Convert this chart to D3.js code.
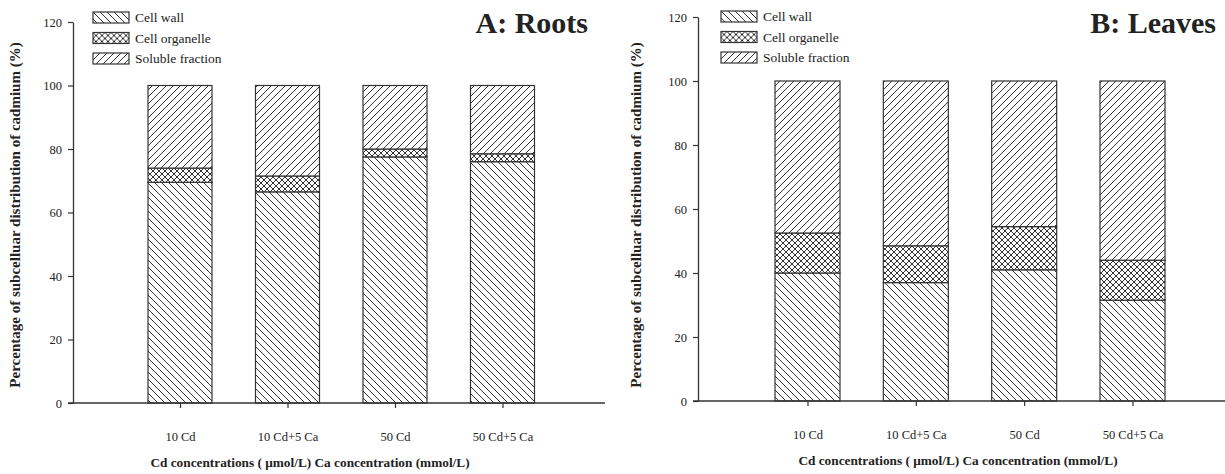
<!DOCTYPE html>
<html>
<head>
<meta charset="utf-8">
<script src="https://cdn.jsdelivr.net/npm/d3@7"></script>
<style>
body { margin: 0; background: #fff; }
svg text { font-family: "Liberation Serif", "DejaVu Serif", serif; fill: #222; }
</style>
</head>
<body>
<script>
// categories and tick labels
var categories = ["10 Cd", "10 Cd+5 Ca", "50 Cd", "50 Cd+5 Ca"];
var yTicks = [0, 20, 40, 60, 80, 100, 120];
var fractions = ["Cell wall", "Cell organelle", "Soluble fraction"];

// A: Roots (%)
var rootsCellWall = [69.5, 66.5, 77.5, 76];
var rootsOrganelle = [4.5, 5, 2.5, 2.5];
var rootsSoluble = [26, 28.5, 20, 21.5];

// B: Leaves (%)
var leavesCellWall = [40, 37, 41, 31.5];
var leavesOrganelle = [12.5, 11.5, 13.5, 12.5];
var leavesSoluble = [47.5, 51.5, 45.5, 56];

var W = 1225, H = 474;
var svg = d3.select("body").append("svg")
    .attr("width", W)
    .attr("height", H);

// hatch patterns
var defs = svg.append("defs");
var ink = "#333";
function hatch(id, size, d) {
    var p = defs.append("pattern")
        .attr("id", id)
        .attr("patternUnits", "userSpaceOnUse")
        .attr("width", size)
        .attr("height", size);
    p.append("rect").attr("width", size).attr("height", size).attr("fill", "#fff");
    p.append("path").attr("d", d).attr("stroke", ink).attr("stroke-width", 1).attr("fill", "none");
}
hatch("back", 7, "M0,0L7,7M-1,6L1,8M6,-1L8,1");
hatch("fwd", 7, "M0,7L7,0M-1,1L1,-1M6,8L8,6");
hatch("cross", 6, "M0,0L6,6M-1,5L1,7M5,-1L7,1M0,6L6,0M-1,1L1,-1M5,7L7,5");
var fills = ["url(#back)", "url(#cross)", "url(#fwd)"];
var serif = "'Liberation Serif', 'DejaVu Serif', serif";

function drawPanel(p) {
    var g = svg.append("g");
    var y = d3.scaleLinear().domain([0, 120]).range([p.bottom, p.top]);
    var x = d3.scalePoint().domain(categories).range([p.c0, p.c1]);

    var rows = categories.map(function(c, i) {
        return { cat: c, wall: p.wall[i], org: p.org[i], sol: p.sol[i] };
    });
    var stack = d3.stack().keys(["wall", "org", "sol"]);
    var series = stack(rows);

    g.selectAll("g.layer")
        .data(series)
        .enter().append("g")
        .attr("class", "layer")
        .attr("fill", function(d, i) { return fills[i]; })
        .selectAll("rect")
        .data(function(d) { return d; })
        .enter().append("rect")
        .attr("x", function(d) { return x(d.data.cat) - p.bw / 2; })
        .attr("width", p.bw)
        .attr("y", function(d) { return y(d[1]); })
        .attr("height", function(d) { return y(d[0]) - y(d[1]); })
        .attr("stroke", ink)
        .attr("stroke-width", 1.2);

    // y axis
    var ya = g.append("g")
        .attr("transform", "translate(" + p.left + ",0)")
        .call(d3.axisLeft(y).tickValues(yTicks).tickSize(5).tickSizeOuter(0).tickPadding(6));
    ya.attr("font-family", serif);
    ya.select(".domain").attr("stroke", ink).attr("stroke-width", 1.3);
    ya.selectAll(".tick line").attr("stroke", ink).attr("stroke-width", 1.2);
    ya.selectAll(".tick text").style("font-size", "12.5px");

    // x axis
    var xa = g.append("g")
        .attr("transform", "translate(0," + p.bottom + ")")
        .call(d3.axisBottom(x).tickSize(5).tickPadding(24));
    xa.attr("font-family", serif);
    xa.select(".domain").remove();
    xa.append("line")
        .attr("x1", p.left - 5).attr("x2", p.right)
        .attr("stroke", ink).attr("stroke-width", 1.3);
    xa.selectAll(".tick line").attr("stroke", ink).attr("stroke-width", 1.2);
    xa.selectAll(".tick text").style("font-size", "12.5px");

    // axis titles
    g.append("text")
        .attr("transform", "translate(" + p.ylabX + "," + p.ylabY + ") rotate(-90)")
        .attr("text-anchor", "middle")
        .style("font-size", "15px")
        .style("font-weight", "bold")
        .text("Percentage of subcelluar distribution of cadmium (%)");
    g.append("text")
        .attr("x", p.xlabX)
        .attr("y", p.xlabY)
        .attr("text-anchor", "middle")
        .style("font-size", "13.3px")
        .style("font-weight", "bold")
        .text("Cd concentrations ( \u03bcmol/L) Ca concentration (mmol/L)");

    // panel title
    g.append("text")
        .attr("x", p.titleX)
        .attr("y", p.titleY)
        .attr("text-anchor", "end")
        .style("font-size", "30px")
        .style("font-weight", "bold")
        .text(p.title);

    // legend
    var lg = g.selectAll("g.leg")
        .data(fractions)
        .enter().append("g")
        .attr("class", "leg")
        .attr("transform", function(d, i) { return "translate(" + p.legX + "," + (p.legY + i * 20.5) + ")"; });
    lg.append("rect")
        .attr("width", 36).attr("height", 11)
        .attr("fill", function(d, i) { return fills[i]; })
        .attr("stroke", ink).attr("stroke-width", 1.2);
    lg.append("text")
        .attr("x", 42).attr("y", 10)
        .style("font-size", "13.5px")
        .text(function(d) { return d; });
}

drawPanel({
    title: "A: Roots", titleX: 588, titleY: 33,
    left: 73, right: 605, top: 22, bottom: 403,
    c0: 180, c1: 502.5, bw: 64,
    wall: rootsCellWall, org: rootsOrganelle, sol: rootsSoluble,
    ylabX: 20, ylabY: 215, xlabX: 310, xlabY: 467,
    legX: 93, legY: 12
});

drawPanel({
    title: "B: Leaves", titleX: 1216, titleY: 33,
    left: 698, right: 1225, top: 17, bottom: 401,
    c0: 807.5, c1: 1132.5, bw: 65,
    wall: leavesCellWall, org: leavesOrganelle, sol: leavesSoluble,
    ylabX: 641, ylabY: 215, xlabX: 958, xlabY: 465,
    legX: 721, legY: 11
});
</script>
</body>
</html>
